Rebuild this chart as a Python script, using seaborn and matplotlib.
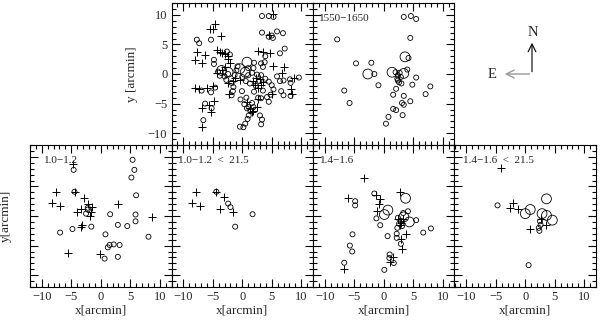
import matplotlib
matplotlib.use("Agg")
import matplotlib.pyplot as plt
import seaborn as sns
from matplotlib.ticker import MultipleLocator
from matplotlib.patches import FancyArrowPatch

# ---- data (arcmin offsets) ----
# all galaxies
all_cx = [3.35, 4.5, 5.3, 3.35, 4.5, 5.2, 5.0, 5.9, 6.9, 6.4, 7.2, 3.9, 3.2, 3.8, 3.5, 1.9,
          -7.7, -7.3, -5.3, -4.8, -4.8, -2.6, -2.1, -4.1, -3.0, -2.4, -2.7, -3.8,
          -1.8, -1.5, -1.6, -1.8, -6.9, -5.3, -4.6, -6.3, -5.2, -6.6, -0.3, -0.4,
          0.0, 0.6, 1.0, 1.65, 2.5, 3.2, 3.9, 4.5, 5.0, 5.3, 4.8, 4.2, 4.5,
          5.9, 6.4, 7.0, 8.2, 8.1, 6.6, 7.0, 8.2, 9.6,
          -0.05, 0.7, 0.35, 1.1, 1.65, 1.9, 2.7, 3.2,
          1.1, 0.9, 0.5, 0.2, 3.0, 3.35, 3.2,
          0.8, 1.4, 2.3, 2.0, 1.3, 2.9, 3.5, 1.0, -1.0, -1.3, 2.0, -0.8]
all_cy = [9.8, 9.8, 9.65, 7.0, 6.3, 6.1, 6.5, 7.2, 6.9, 3.5, 4.3, 3.0, 1.8, 2.0, 1.2, 1.0,
          5.8, 5.2, 5.8, 2.4, 1.7, 3.8, 3.3, 0.4, -0.4, 0.0, -1.0, -0.3,
          -1.5, -2.2, -2.9, -3.6, -2.8, -3.1, -2.3, -5.0, -5.8, -7.8, -4.3, -8.9,
          -0.5, -1.2, -0.2, 0.2, -0.1, -0.2, -0.8, -1.3, -1.9, -2.6, -3.5, -3.9, -4.7,
          -0.4, -1.2, -1.1, -1.5, -0.9, -2.9, -3.6, -3.7, -0.6,
          -2.9, -4.0, -5.1, -5.6, -4.9, -5.6, -4.0, -4.1,
          -7.0, -7.6, -8.4, -9.0, -7.0, -7.7, -8.5,
          -5.8, -6.3, -2.0, -3.0, -1.6, -1.2, -2.8, 1.0, 0.6, -0.2, 1.9, 1.3]
all_bx = [0.8, -0.4, -2.4, -3.5, 0.5]
all_by = [2.0, 0.9, 0.3, 0.6, 0.3]
all_px = [-4.6, -5.45, -4.9, -3.6, -7.7, -6.3, -8.0, -6.9,
          -4.2, -3.8, -3.5, -3.0, -2.5, -2.4, -2.0,
          -4.3, -3.4, -2.9, -2.5, -1.5,
          -8.0, -7.4, -5.9, -4.9, -2.3,
          -4.8, -5.7, -6.9, -5.3, -6.8,
          5.3, 4.6, 2.7, 3.5, 4.7, 7.0, 6.8, 8.7, 8.2, 8.5,
          2.4, 3.0, 3.5, 2.2, 2.7, 1.9, 3.2, 5.0, 0.8, 1.3, 1.65, 1.9, 2.5, 2.7, -0.4, -1.2, 5.3]
all_py = [8.5, 7.6, 7.6, 6.35, 3.8, 3.2, 2.3, 1.8,
          4.0, 3.8, 3.6, 3.3, 3.0, 2.5, 1.8,
          0.1, 0.7, 1.1, -1.5, -1.1,
          -2.3, -2.5, -2.3, -2.0, -3.3,
          -4.6, -5.3, -5.8, -6.5, -8.9,
          10.1, 6.6, 3.9, 3.8, 3.5, 1.2, 0.1, -0.7, -2.6, -3.3,
          -0.6, -0.9, -1.4, -1.8, -2.3, -1.2, -1.9, -3.4, -4.8, -5.7, -6.5, -6.2, -5.5, -4.3, -1.0, -0.6, 1.3]

# 1550-1650
v_cx = [3.4, 4.6, 5.5, -7.9, 4.5, -4.7, -2.1, -1.6, -0.9, -6.7, -5.8,
        2.0, 2.4, 2.7, 2.9, 2.3, 2.6, 3.0, 2.4, 4.2, 4.0, 5.5, 4.85, 7.9, 7.1,
        2.1, 1.6, 3.4, 4.5, 3.1, 3.4, 1.6, 2.1, 3.2, 0.8, 0.37]
v_cy = [9.65, 9.8, 9.3, 5.85, 6.1, 1.8, 1.9, 0.0, -1.9, -2.8, -4.9,
        0.3, -0.2, 0.2, -0.5, -0.8, -1.4, -1.6, -1.1, 2.7, 0.75, -0.6, -1.8, -2.1, -3.4,
        -2.5, -3.5, -3.7, -4.6, -4.9, -5.2, -5.9, -6.1, -6.95, -7.25, -8.4]
v_bx = [-2.7, 1.4, 3.4, 3.6]
v_by = [0.0, 0.3, 0.1, 2.9]

# 1.0-1.2
a_cx = [-4.6, 5.4, 5.7, 5.2, 6.0, -4.45, -2.2, -2.5, -2.2, -1.6, -4.8, -6.9, 1.6, 2.9, 4.5,
        5.9, 5.9, 8.1, 0.8, 1.2, 1.5, 2.2, 3.2, 0.65, 2.9]
a_cy = [7.8, 9.5, 7.8, 6.5, 3.5, 4.1, 1.4, 0.4, 1.1, -1.8, -2.2, -2.8, 0.3, -1.5, -1.7,
        0.25, -0.9, -3.5, -3.1, -5.3, -4.9, -4.8, -4.9, -7.2, -6.9]
a_px = [-4.7, -7.6, -8.3, -6.9, -4.45, -2.9, -2.2, -1.5, -1.7, -1.9, -3.4, -4.1, -3.1, -3.4,
        2.9, 8.7, -0.1, -5.5]
a_py = [8.8, 4.1, 2.2, 1.7, 4.1, 3.1, 2.1, 1.5, 0.7, 0.0, 1.1, 0.7, -1.55, -1.8,
        2.1, -0.25, -6.4, -6.2]

# 1.0-1.2 < 21.5
b_cx = [-4.4, -2.4, -2.0, 1.75, -1.2]
b_cy = [4.1, 2.1, 1.5, 0.3, -1.8]
b_px = [-7.8, -4.4, -8.5, -7.1, -3.1, -3.7, -1.5]
b_py = [4.1, 4.1, 2.2, 1.7, 3.25, 1.1, 0.6]

# 1.4-1.6
c_cx = [-4.85, -4.85, -1.6, -1.25, -0.6, 3.3, 4.1, 5.5, 2.4, 2.9, 2.6, 3.1, 2.3, 2.2, 2.2,
        0.65, 6.7, 8.0, -5.3, -5.75, -5.35, 2.9, 1.0, 0.95, 1.7, 0.1, -6.7]
c_cy = [2.5, 1.8, 3.8, -0.4, -1.55, 0.5, 0.8, -0.7, -0.3, -0.8, -1.3, -1.7, -2.0, -3.0, -3.7,
        -3.4, -2.8, -2.1, -3.1, -5.0, -6.0, -4.7, -6.5, -7.1, -7.95, -9.1, -7.9]
c_bx = [0.7, 0.1, 3.7, 4.35, 3.4]
c_by = [1.0, 0.25, 3.0, -1.0, -0.15]
c_px = [-3.4, -6.0, -1.3, -0.7, -0.8, -1.2, 2.7, 2.5, 2.9, 3.3, 2.7, 3.8, 3.1, 1.55, 1.1, -6.7, 3.0]
c_py = [6.35, 3.1, 3.5, 2.85, 1.95, 0.9, 4.1, -0.5, -1.1, -0.5, -1.6, -3.1, -5.5, -6.9, -7.7, -9.0, -3.9]

# 1.4-1.6 < 21.5
d_cx = [-4.7, 2.5, 2.6, 2.3, 2.4, 0.57]
d_cy = [1.8, -0.9, -1.5, -2.0, -2.5, -8.3]
d_bx = [0.85, 0.0, 3.6, 2.85, 3.6, 4.6]
d_by = [1.1, 0.4, 2.9, 0.4, 0.1, -0.7]
d_px = [-4.1, -2.0, -2.6, -1.25, 2.7, 3.6, 0.85]
d_py = [8.05, 2.2, 1.3, 1.1, -0.5, -1.6, -2.2]

ticks = [-10, -5, 0, 5, 10]
tick_text = [str(t).replace("-", "\u2212") for t in ticks]

sns.set_style("ticks")
plt.rcParams["font.family"] = ["Liberation Serif", "DejaVu Serif"]

fig = plt.figure(figsize=(6, 3.2), dpi=100)

W, H = 141.5, 142.0
panels = []


def panel(left, top):
    ax = fig.add_axes([left / 600, 1 - (top + H) / 320, W / 600, H / 320])
    panels.append(ax)
    return ax


def draw(ax, cx, cy, px, py, bx=None, by=None, label=None, lx=0.05):
    sns.scatterplot(x=cx, y=cy, ax=ax, marker="o", s=13, facecolors="none",
                    edgecolor="black", linewidth=0.6)
    if bx:
        sns.scatterplot(x=bx, y=by, ax=ax, marker="o", s=50, facecolors="none",
                        edgecolor="black", linewidth=0.6)
    if px:
        sns.scatterplot(x=px, y=py, ax=ax, marker="+", s=26, color="black", linewidth=0.7)
    ax.set_xlim(-12, 12)
    ax.set_ylim(-12, 12)
    for sp in ax.spines.values():
        sp.set_linewidth(0.8)
        sp.set_color("black")
    if label:
        ax.text(lx, 0.89, label, transform=ax.transAxes, fontsize=8, va="center")


lefts = [30, 171.5, 313, 454.5]

axA = panel(lefts[1], 3)
draw(axA, all_cx, all_cy, all_px, all_py, all_bx, all_by)
axA.set_ylabel("y [arcmin]", fontsize=9.5)
axA.yaxis.set_label_coords(-0.24, 0.5)

axB = panel(lefts[2], 3)
draw(axB, v_cx, v_cy, [], [], v_bx, v_by, "1550\u22121650", 0.04)

bottom = [
    (a_cx, a_cy, a_px, a_py, None, None, "1.0\u22121.2", 0.1),
    (b_cx, b_cy, b_px, b_py, None, None, "1.0\u22121.2  <  21.5", 0.045),
    (c_cx, c_cy, c_px, c_py, c_bx, c_by, "1.4\u22121.6", 0.05),
    (d_cx, d_cy, d_px, d_py, d_bx, d_by, "1.4\u22121.6  <  21.5", 0.06),
]
bottom_axes = []
for i, (cx, cy, px, py, bx, by, lab, lx) in enumerate(bottom):
    ax = panel(lefts[i], 145)
    draw(ax, cx, cy, px, py, bx, by, lab, lx)
    ax.set_xlabel("x[arcmin]", fontsize=9.5)
    ax.xaxis.set_label_coords(0.5, -0.125)
    if i == 0:
        ax.set_ylabel("y[arcmin]", fontsize=9.5)
        ax.yaxis.set_label_coords(-0.13, 0.5)
    bottom_axes.append(ax)

# ticks: set once for every panel, after all the drawing
for ax in panels:
    ax.xaxis.set_major_locator(MultipleLocator(5))
    ax.yaxis.set_major_locator(MultipleLocator(5))
    ax.xaxis.set_minor_locator(MultipleLocator(1))
    ax.yaxis.set_minor_locator(MultipleLocator(1))
    ax.tick_params(which="both", direction="in", top=True, right=True, bottom=True, left=True,
                   color="black", width=0.8, labelsize=9, pad=3,
                   labelleft=(ax is axA), labelbottom=(ax in bottom_axes))
    ax.tick_params(which="major", length=6)
    ax.tick_params(which="minor", length=3)
    if ax is axA:
        ax.set_yticks(ticks, tick_text)
    if ax in bottom_axes:
        ax.set_xticks(ticks, tick_text)


# compass (figure pixel coordinates, y from top)
def fpt(x, y):
    return (x / 600, 1 - y / 320)


fig.add_artist(FancyArrowPatch(fpt(532, 74.5), fpt(532, 40), transform=fig.transFigure,
                               arrowstyle="->", lw=0.8, color="black", mutation_scale=14))
fig.add_artist(FancyArrowPatch(fpt(532.4, 74), fpt(502, 74), transform=fig.transFigure,
                               arrowstyle="->", lw=1.0, color="#999999", mutation_scale=14))
fig.text(*fpt(533, 32), "N", fontsize=10.5, ha="center", va="center")
fig.text(*fpt(492, 74), "E", fontsize=10.5, ha="center", va="center")

fig.savefig("out.png", dpi=100)
